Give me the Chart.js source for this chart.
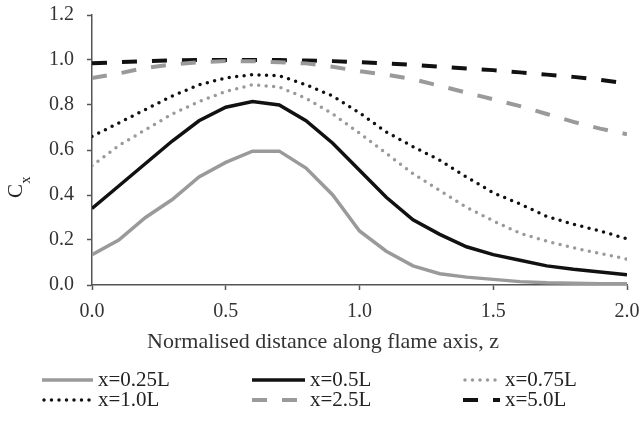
<!DOCTYPE html>
<html>
<head>
<meta charset="utf-8">
<script src="https://cdn.jsdelivr.net/npm/chart.js@4.4.1/dist/chart.umd.min.js"></script>
<style>
  html, body { margin: 0; padding: 0; background: #fff; }
  #wrap { position: relative; width: 640px; height: 421px; }
  #chart { position: absolute; left: 0; top: 0; }
  .leg { position: absolute; font-family: "Liberation Serif", serif; font-size: 21px; color: #222; line-height: 22px; white-space: nowrap; }
  .leg svg { position: absolute; top: 0; }
</style>
</head>
<body>
<div id="wrap">
  <canvas id="chart" width="640" height="421"></canvas>
  <div id="legend"></div>
</div>
<script>
// z positions along the flame axis
const zValues = [0.0, 0.1, 0.2, 0.3, 0.4, 0.5, 0.6, 0.7, 0.8, 0.9, 1.0,
                 1.1, 1.2, 1.3, 1.4, 1.5, 1.6, 1.7, 1.8, 1.9, 2.0];

// Cx for each x position
const cx025 = [0.135, 0.20, 0.30, 0.38, 0.48, 0.545, 0.595, 0.595, 0.52, 0.40, 0.24,
               0.15, 0.085, 0.05, 0.035, 0.025, 0.015, 0.01, 0.008, 0.006, 0.005];
const cx05 = [0.34, 0.44, 0.54, 0.64, 0.73, 0.79, 0.815, 0.80, 0.73, 0.63, 0.51,
              0.39, 0.29, 0.225, 0.17, 0.135, 0.11, 0.085, 0.07, 0.058, 0.045];
const cx075 = [0.53, 0.62, 0.69, 0.76, 0.815, 0.86, 0.89, 0.88, 0.83, 0.76, 0.675,
               0.585, 0.495, 0.42, 0.345, 0.285, 0.23, 0.195, 0.165, 0.14, 0.115];
const cx10 = [0.66, 0.72, 0.78, 0.84, 0.89, 0.92, 0.935, 0.93, 0.89, 0.84, 0.765,
              0.68, 0.615, 0.555, 0.48, 0.41, 0.36, 0.305, 0.27, 0.24, 0.205];
const cx25 = [0.92, 0.94, 0.965, 0.98, 0.99, 0.995, 0.995, 0.99, 0.985, 0.97, 0.95,
              0.935, 0.915, 0.885, 0.855, 0.825, 0.795, 0.76, 0.725, 0.695, 0.67];
const cx50 = [0.985, 0.99, 0.995, 0.998, 1.0, 1.0, 1.0, 1.0, 0.998, 0.995, 0.99,
              0.985, 0.978, 0.97, 0.962, 0.955, 0.945, 0.935, 0.925, 0.912, 0.895];

const yTicks = [0.0, 0.2, 0.4, 0.6, 0.8, 1.0, 1.2];
const xTicks = [0.0, 0.5, 1.0, 1.5, 2.0];

const GRAY = "#9a9a9a";
const BLACK = "#111111";
const FONT = "Liberation Serif";

const seriesDefs = [
  { label: "x=0.25L", data: cx025, color: GRAY, width: 3.5, dash: [], cap: "butt" },
  { label: "x=0.5L", data: cx05, color: BLACK, width: 3.5, dash: [], cap: "butt" },
  { label: "x=0.75L", data: cx075, color: GRAY, width: 3.5, dash: [0, 7.5], cap: "round" },
  { label: "x=1.0L", data: cx10, color: BLACK, width: 3.5, dash: [0, 7.5], cap: "round" },
  { label: "x=2.5L", data: cx25, color: GRAY, width: 4, dash: [15, 15], cap: "butt" },
  { label: "x=5.0L", data: cx50, color: BLACK, width: 4, dash: [15, 15], cap: "butt" },
];

const datasets = seriesDefs.map(s => ({
  label: s.label,
  data: zValues.map((z, i) => ({ x: z, y: s.data[i] })),
  borderColor: s.color,
  borderWidth: s.width,
  borderDash: s.dash,
  borderCapStyle: s.cap,
  pointRadius: 0,
  tension: 0,
  fill: false,
}));

// axis titles: Cx with subscript, and the x title centred on the figure
const axisTitlePlugin = {
  id: "axisTitles",
  afterDraw(chart) {
    const c = chart.ctx;
    c.save();
    c.fillStyle = "#333";
    c.font = "22px " + FONT;
    c.textAlign = "center";
    c.textBaseline = "middle";
    c.fillText("Normalised distance along flame axis, z", 323, 342);
    c.restore();

    c.save();
    c.translate(22, 198);
    c.rotate(-Math.PI / 2);
    c.fillStyle = "#222";
    c.textBaseline = "alphabetic";
    c.font = "21px " + FONT;
    c.fillText("C", 0, 0);
    const w = c.measureText("C").width;
    c.font = "14px " + FONT;
    c.fillText("x", w + 0.5, 8);
    c.restore();
  },
};

const tickFont = { family: FONT, size: 20 };

new Chart(document.getElementById("chart"), {
  type: "line",
  data: { datasets },
  options: {
    responsive: false,
    animation: false,
    layout: { padding: { left: 36, right: 13, top: 15, bottom: 87 } },
    plugins: { legend: { display: false }, tooltip: { enabled: false } },
    scales: {
      x: {
        type: "linear",
        min: 0,
        max: 2,
        afterBuildTicks: (axis) => { axis.ticks = xTicks.map(v => ({ value: v })); },
        afterFit: (axis) => { axis.paddingLeft = 0; axis.paddingRight = 0; },
        ticks: { color: "#333", font: tickFont, padding: 10, maxRotation: 0,
                 callback: v => v.toFixed(1) },
        grid: { drawOnChartArea: false, drawTicks: true, tickLength: 5, tickColor: "#555", tickWidth: 1.5 },
        border: { display: true, color: "#555", width: 1.5 },
      },
      y: {
        type: "linear",
        min: 0,
        max: 1.2,
        afterBuildTicks: (axis) => { axis.ticks = yTicks.map(v => ({ value: v })); },
        afterFit: (axis) => { axis.paddingTop = 0; axis.paddingBottom = 0; },
        ticks: { color: "#333", font: tickFont, padding: 13, callback: v => v.toFixed(1) },
        grid: { drawOnChartArea: false, drawTicks: true, tickLength: 5, tickColor: "#555", tickWidth: 1.5 },
        border: { display: true, color: "#555", width: 1.5 },
      },
    },
  },
  plugins: [axisTitlePlugin],
});

// HTML legend laid out in three columns like the original
const legendPos = [
  { x: 42, y: 368, len: 51 }, { x: 252, y: 368, len: 53 }, { x: 463, y: 368, len: 37 },
  { x: 42, y: 388, len: 51 }, { x: 252, y: 388, len: 53 }, { x: 463, y: 388, len: 37 },
];
const legendEl = document.getElementById("legend");
seriesDefs.forEach((s, i) => {
  const p = legendPos[i];
  const item = document.createElement("div");
  item.className = "leg";
  item.style.left = p.x + "px";
  item.style.top = p.y + "px";
  item.style.paddingLeft = (p.len + 5) + "px";
  const dash = s.dash.length ? s.dash.join(" ") : "none";
  item.innerHTML =
    `<svg width="${p.len}" height="22" style="left:0"><line x1="${s.cap === "round" ? 2 : 0}" y1="12" x2="${p.len}" y2="12" ` +
    `stroke="${s.color}" stroke-width="${s.width}" stroke-linecap="${s.cap}" stroke-dasharray="${dash}"/></svg>` +
    s.label;
  legendEl.appendChild(item);
});
</script>
</body>
</html>
